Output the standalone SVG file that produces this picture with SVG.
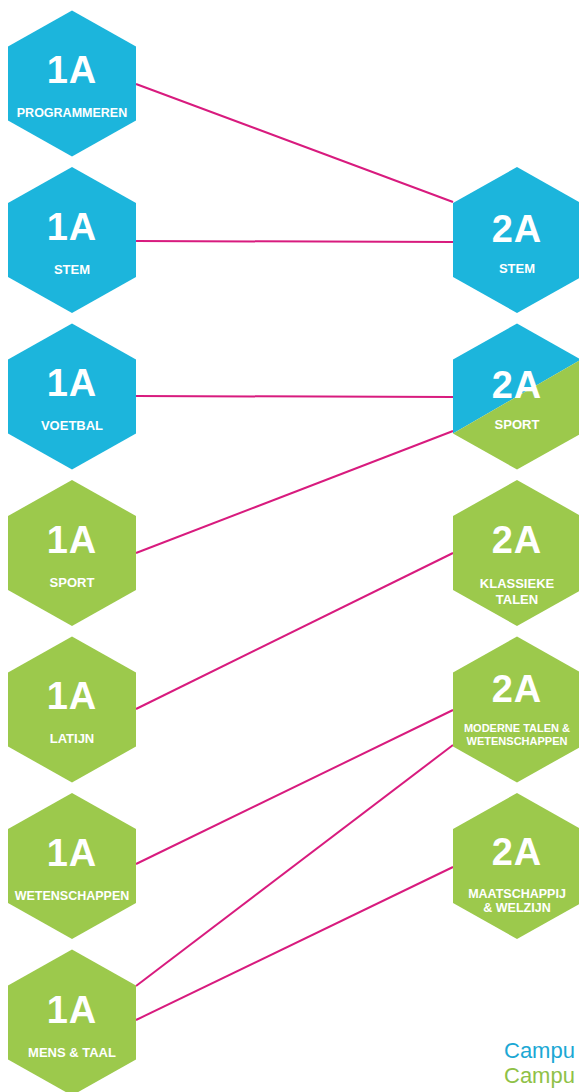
<svg xmlns="http://www.w3.org/2000/svg" width="579" height="1092" viewBox="0 0 579 1092">
<style>
.blue{fill:#1cb5dc}
.green{fill:#9cc94c}
.big{font-family:"Liberation Sans",Arial,sans-serif;font-weight:bold;font-size:38px;fill:#fff;text-anchor:middle;letter-spacing:1px}
.lbl{font-family:"Liberation Sans",Arial,sans-serif;font-weight:bold;font-size:13px;fill:#fff;text-anchor:middle}
.lbl.p{font-size:12.5px}
.sm{font-size:11px}
.conn line{stroke:#d81b7e;stroke-width:2;fill:none}
.campus{font-family:"Liberation Sans",Arial,sans-serif;font-size:22px}
</style>
<defs>
<polygon id="hex" points="0,-73 64,-37 64,37 0,73 -64,37 -64,-37"/>
</defs>
<g class="conn" id="connectors">
<line x1="136" y1="84" x2="453" y2="202"/>
<line x1="136" y1="241" x2="453" y2="242"/>
<line x1="136" y1="396" x2="453" y2="397"/>
<line x1="136" y1="553" x2="453" y2="431"/>
<line x1="136" y1="709" x2="453" y2="553"/>
<line x1="136" y1="864" x2="453" y2="710"/>
<line x1="136" y1="986" x2="453" y2="745"/>
<line x1="136" y1="1020" x2="453" y2="867"/>
</g>
<g id="n1a-programmeren">
<use href="#hex" class="blue" x="72" y="83.5"/>
<text class="big" x="72" y="83">1A</text>
<text class="lbl p" x="72" y="117">PROGRAMMEREN</text>
</g>
<g id="n1a-stem">
<use href="#hex" class="blue" x="72" y="240"/>
<text class="big" x="72" y="240">1A</text>
<text class="lbl" x="72" y="274">STEM</text>
</g>
<g id="n1a-voetbal">
<use href="#hex" class="blue" x="72" y="396.5"/>
<text class="big" x="72" y="396">1A</text>
<text class="lbl" x="72" y="430">VOETBAL</text>
</g>
<g id="n1a-sport">
<use href="#hex" class="green" x="72" y="553"/>
<text class="big" x="72" y="553">1A</text>
<text class="lbl" x="72" y="587">SPORT</text>
</g>
<g id="n1a-latijn">
<use href="#hex" class="green" x="72" y="709.5"/>
<text class="big" x="72" y="709">1A</text>
<text class="lbl" x="72" y="743">LATIJN</text>
</g>
<g id="n1a-wetenschappen">
<use href="#hex" class="green" x="72" y="866"/>
<text class="big" x="72" y="866">1A</text>
<text class="lbl p" x="72" y="900">WETENSCHAPPEN</text>
</g>
<g id="n1a-mens-taal">
<use href="#hex" class="green" x="72" y="1022.5"/>
<text class="big" x="72" y="1023">1A</text>
<text class="lbl" x="72" y="1057">MENS &amp; TAAL</text>
</g>
<g id="n2a-stem">
<use href="#hex" class="blue" x="517" y="240"/>
<text class="big" x="517" y="242">2A</text>
<text class="lbl" x="517" y="273">STEM</text>
</g>
<g id="n2a-sport">
<polygon class="blue" points="517,323.5 581,359.5 453,433.5 453,359.5"/>
<polygon class="green" points="581,359.5 581,433.5 517,469.5 453,433.5"/>
<text class="big" x="517" y="398">2A</text>
<text class="lbl" x="517" y="429">SPORT</text>
</g>
<g id="n2a-klassieke-talen">
<use href="#hex" class="green" x="517" y="553"/>
<text class="big" x="517" y="553">2A</text>
<text class="lbl" x="517" y="588">KLASSIEKE</text>
<text class="lbl" x="517" y="604">TALEN</text>
</g>
<g id="n2a-moderne-talen">
<use href="#hex" class="green" x="517" y="709.5"/>
<text class="big" x="517" y="702">2A</text>
<text class="lbl sm" x="517" y="732">MODERNE TALEN &amp;</text>
<text class="lbl sm" x="517" y="745">WETENSCHAPPEN</text>
</g>
<g id="n2a-maatschappij">
<use href="#hex" class="green" x="517" y="866"/>
<text class="big" x="517" y="865">2A</text>
<text class="lbl p" x="517" y="898">MAATSCHAPPIJ</text>
<text class="lbl p" x="517" y="912">&amp; WELZIJN</text>
</g>
<g id="legend">
<text class="campus" x="504" y="1058" fill="#1ca8d4">Campu</text>
<text class="campus" x="504" y="1083" fill="#8fc147">Campu</text>
</g>
</svg>
